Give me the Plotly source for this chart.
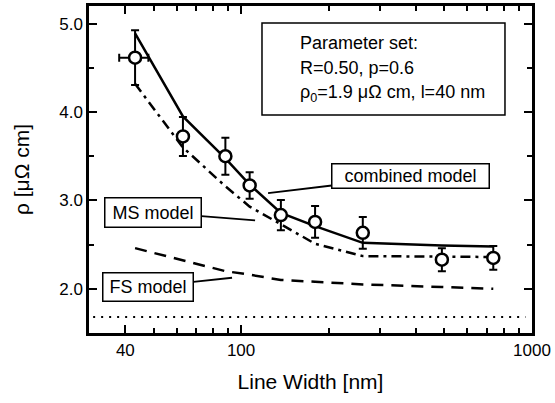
import math
import plotly.graph_objects as go

# ---------------- data ----------------
line_width_nm = [43.2, 63.1, 88.3, 107, 137, 179.6, 262, 490, 736]
rho_measured = [4.615, 3.724, 3.50, 3.17, 2.834, 2.757, 2.633, 2.33, 2.35]
rho_err = [0.31, 0.22, 0.21, 0.15, 0.17, 0.18, 0.18, 0.13, 0.135]
width_err_plus = [4.8, 0, 0, 0, 0, 0, 0, 0, 0]
width_err_minus = [5.1, 0, 0, 0, 0, 0, 0, 0, 0]

rho_combined = [4.89, 3.95, 3.475, 3.18, 2.86, 2.71, 2.52, 2.49, 2.48]
rho_ms = [4.32, 3.60, 3.16, 2.93, 2.73, 2.51, 2.37, 2.36, 2.36]
rho_fs = [2.46, 2.32, 2.20, 2.16, 2.10, 2.08, 2.05, 2.02, 2.00]

bulk_x = [31, 950]
bulk_rho = [1.68, 1.68]

x_tick_vals = [40, 100, 1000]
x_tick_text = ["40", "100", "1000"]
x_minor_vals = [50, 60, 70, 80, 90, 200, 300, 400, 500, 600, 700, 800, 900]
y_tick_vals = [2, 3, 4, 5]
y_tick_text = ["2.0", "3.0", "4.0", "5.0"]
y_minor_vals = [2.5, 3.5, 4.5]

FONT = "Arial, Liberation Sans, Helvetica, sans-serif"

fig = go.Figure()

fig.add_trace(go.Scatter(x=bulk_x, y=bulk_rho, mode="lines",
                         line=dict(color="black", width=2, dash="2px,6px"),
                         showlegend=False))
fig.add_trace(go.Scatter(x=line_width_nm, y=rho_fs, mode="lines",
                         line=dict(color="black", width=2.5, dash="12px,8px"),
                         showlegend=False))
fig.add_trace(go.Scatter(x=line_width_nm, y=rho_ms, mode="lines",
                         line=dict(color="black", width=2.5, dash="10px,5px,3px,5px"),
                         showlegend=False))
fig.add_trace(go.Scatter(x=line_width_nm, y=rho_combined, mode="lines",
                         line=dict(color="black", width=2.5),
                         showlegend=False))
fig.add_trace(go.Scatter(
    x=line_width_nm, y=rho_measured, mode="markers",
    marker=dict(symbol="circle", size=12, color="white",
                line=dict(color="black", width=2.5)),
    error_y=dict(type="data", array=rho_err, color="black", thickness=2, width=4),
    error_x=dict(type="data", array=width_err_plus, arrayminus=width_err_minus,
                 color="black", thickness=2, width=4),
    showlegend=False))

axis_common = dict(showline=True, linewidth=2.5, linecolor="black", mirror="allticks",
                   ticks="inside", ticklen=8, tickwidth=2, tickcolor="black",
                   showgrid=False, zeroline=False,
                   tickfont=dict(family=FONT, size=17, color="black"))

fig.update_xaxes(type="log", range=[math.log10(30), 3],
                 tickmode="array", tickvals=x_tick_vals, ticktext=x_tick_text,
                 minor=dict(tickmode="array", tickvals=x_minor_vals, ticks="inside",
                            ticklen=5, tickwidth=2, tickcolor="black", showgrid=False),
                 title=dict(text="Line Width [nm]", font=dict(family=FONT, size=21, color="black"),
                            standoff=16),
                 **axis_common)
fig.update_yaxes(range=[1.5, 5.2],
                 tickmode="array", tickvals=y_tick_vals, ticktext=y_tick_text,
                 minor=dict(tickmode="array", tickvals=y_minor_vals, ticks="inside",
                            ticklen=5, tickwidth=2, tickcolor="black", showgrid=False),
                 title=dict(text="ρ [μΩ cm]", font=dict(family=FONT, size=21, color="black"),
                            standoff=24),
                 **axis_common)

# parameter box
fig.add_shape(type="rect", xref="paper", yref="paper",
              x0=0.3905, x1=0.939, y0=0.6667, y1=0.948,
              line=dict(color="black", width=1.5), fillcolor="white")
param_lines = ["Parameter set:", "R=0.50, p=0.6", "ρ<sub>0</sub>=1.9 μΩ cm, l=40 nm"]
param_y = [0.8872, 0.8095, 0.733]
for t, yy in zip(param_lines, param_y):
    fig.add_annotation(x=0.4718, y=yy, xref="paper", yref="paper", text=t,
                       showarrow=False, xanchor="left", yanchor="middle",
                       font=dict(family=FONT, size=18, color="black"))

label_common = dict(showarrow=True, arrowhead=0, arrowwidth=1.8, arrowcolor="black",
                    bordercolor="black", borderwidth=1.5, borderpad=0, bgcolor="white",
                    font=dict(family=FONT, size=18, color="black"))
fig.add_annotation(x=math.log10(123.8), y=3.083, text="combined model",
                   ax=142.5, ay=-17, width=156, height=23, **label_common)
fig.add_annotation(x=math.log10(111.7), y=2.774, text="MS model",
                   ax=-102, ay=-8, width=95, height=28, **label_common)
fig.add_annotation(x=math.log10(93.1), y=2.125, text="FS model",
                   ax=-84, ay=9, width=89, height=27, **label_common)

fig.update_layout(width=555, height=403,
                  margin=dict(l=89, r=23, t=6, b=70, autoexpand=False),
                  paper_bgcolor="white", plot_bgcolor="white",
                  font=dict(family=FONT, color="black"))

fig.write_html("out.html", config={"displayModeBar": False},
               post_script="document.body.style.margin='0px';")
